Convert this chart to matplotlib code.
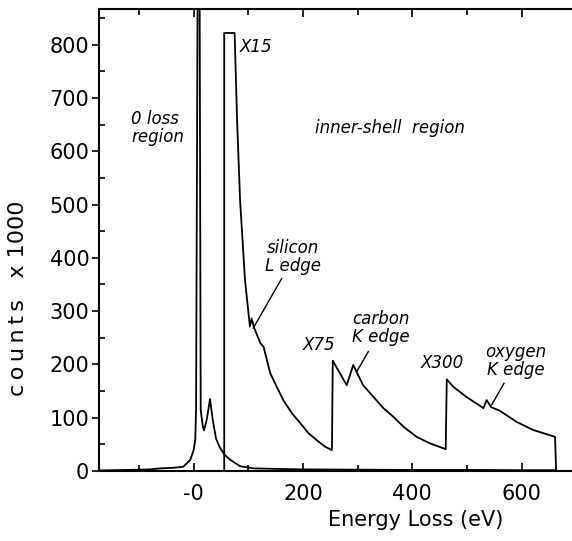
import matplotlib
matplotlib.use("Agg")
import matplotlib.pyplot as plt
from matplotlib.ticker import MultipleLocator

# 1x spectrum: zero loss peak + plasmon + tail (eV, counts/1000)
low_ev = [-173, -120, -80, -61, -37, -19, -6, 0, 3, 4.5, 9.5, 13, 17, 19, 24,
          30, 35, 41, 48, 57, 67, 85, 109, 150, 200, 300, 400, 500, 600, 663, 664]
low_counts = [1, 2, 3, 5, 6, 8, 21, 39, 58, 114, 1500, 114, 83, 76, 96,
              135, 96, 61, 44, 30, 21, 9, 5, 4, 3, 2.5, 2, 2, 1.5, 1.5, 0]

# inner-shell region, scaled x15 / x75 / x300
high_ev = [56, 56, 75, 79.5, 85, 94, 103, 106, 111, 122, 128, 140, 152, 164, 180,
           195, 210, 225, 240, 253, 254.5, 280, 292, 298, 310, 329, 347, 365, 384,
           408, 432, 461, 463, 475, 499, 530, 536, 544, 560, 591, 621, 661, 663]
high_counts = [0, 822, 822, 659, 508, 358, 271, 286, 268, 240, 233, 184, 158, 133, 108,
               90, 71, 58, 46, 39, 207, 161, 199, 186, 161, 139, 118, 102, 83,
               64, 52, 41, 172, 158, 139, 118, 133, 120, 113, 92, 77, 64, 0]

xtick_vals = [0, 200, 400, 600]
xtick_text = ["-0", "200", "400", "600"]

fig = plt.figure(figsize=(5.72, 5.41), dpi=100)
ax = fig.add_axes([99/572, 1-471/541, 473/572, 462/541])

ax.plot(low_ev, low_counts, color="black", lw=1.3)
ax.plot(high_ev, high_counts, color="black", lw=1.3)

ax.set_xlim(-173, 692)
ax.set_ylim(0, 867)

ax.spines["right"].set_visible(False)
for s in ["left", "bottom", "top"]:
    ax.spines[s].set_linewidth(1.5)

ax.set_xticks(xtick_vals)
ax.set_xticklabels(xtick_text)
ax.xaxis.set_minor_locator(MultipleLocator(100))
ax.yaxis.set_major_locator(MultipleLocator(100))
ax.yaxis.set_minor_locator(MultipleLocator(50))
ax.tick_params(axis="x", which="both", direction="in", top=True, labelsize=15, pad=9)
ax.tick_params(axis="x", which="major", length=6, width=1.2)
ax.tick_params(axis="x", which="minor", length=4, width=1.2)
ax.tick_params(axis="y", which="major", direction="out", length=5, width=1.2, labelsize=15, pad=2)
ax.tick_params(axis="y", which="minor", direction="in", length=4, width=1.2)

ax.set_xlabel("Energy Loss (eV)", fontsize=15)
ax.xaxis.set_label_coords(0.670, -0.084)
fig.text(18/572, 1-298/541, "c\u2009o\u2009u\u2009n\u2009t\u2009s   x 1000", rotation=90,
         ha="center", va="center", fontsize=16)

# annotations
ital = dict(fontsize=12, style="italic")
ax.text(85, 795, "X15", ha="left", va="center", **ital)
ax.text(-114, 644, "0 loss\nregion", ha="left", va="center", linespacing=1.0, **ital)
ax.text(222, 644, "inner-shell  region", ha="left", va="center", **ital)
ax.text(181, 402, "silicon\nL edge", ha="center", va="center", linespacing=1.0, **ital)
ax.text(229.5, 236, "X75", ha="center", va="center", **ital)
ax.text(343, 268, "carbon\nK edge", ha="center", va="center", linespacing=1.0, **ital)
ax.text(454, 203, "X300", ha="center", va="center", **ital)
ax.text(589.5, 206, "oxygen\nK edge", ha="center", va="center", linespacing=1.0, **ital)

ax.plot([161, 109], [361, 268], color="black", lw=1)
ax.plot([319.5, 298], [224, 186], color="black", lw=1)
ax.plot([567.6, 545], [164.5, 124], color="black", lw=1)

fig.savefig("out.png", dpi=100)
